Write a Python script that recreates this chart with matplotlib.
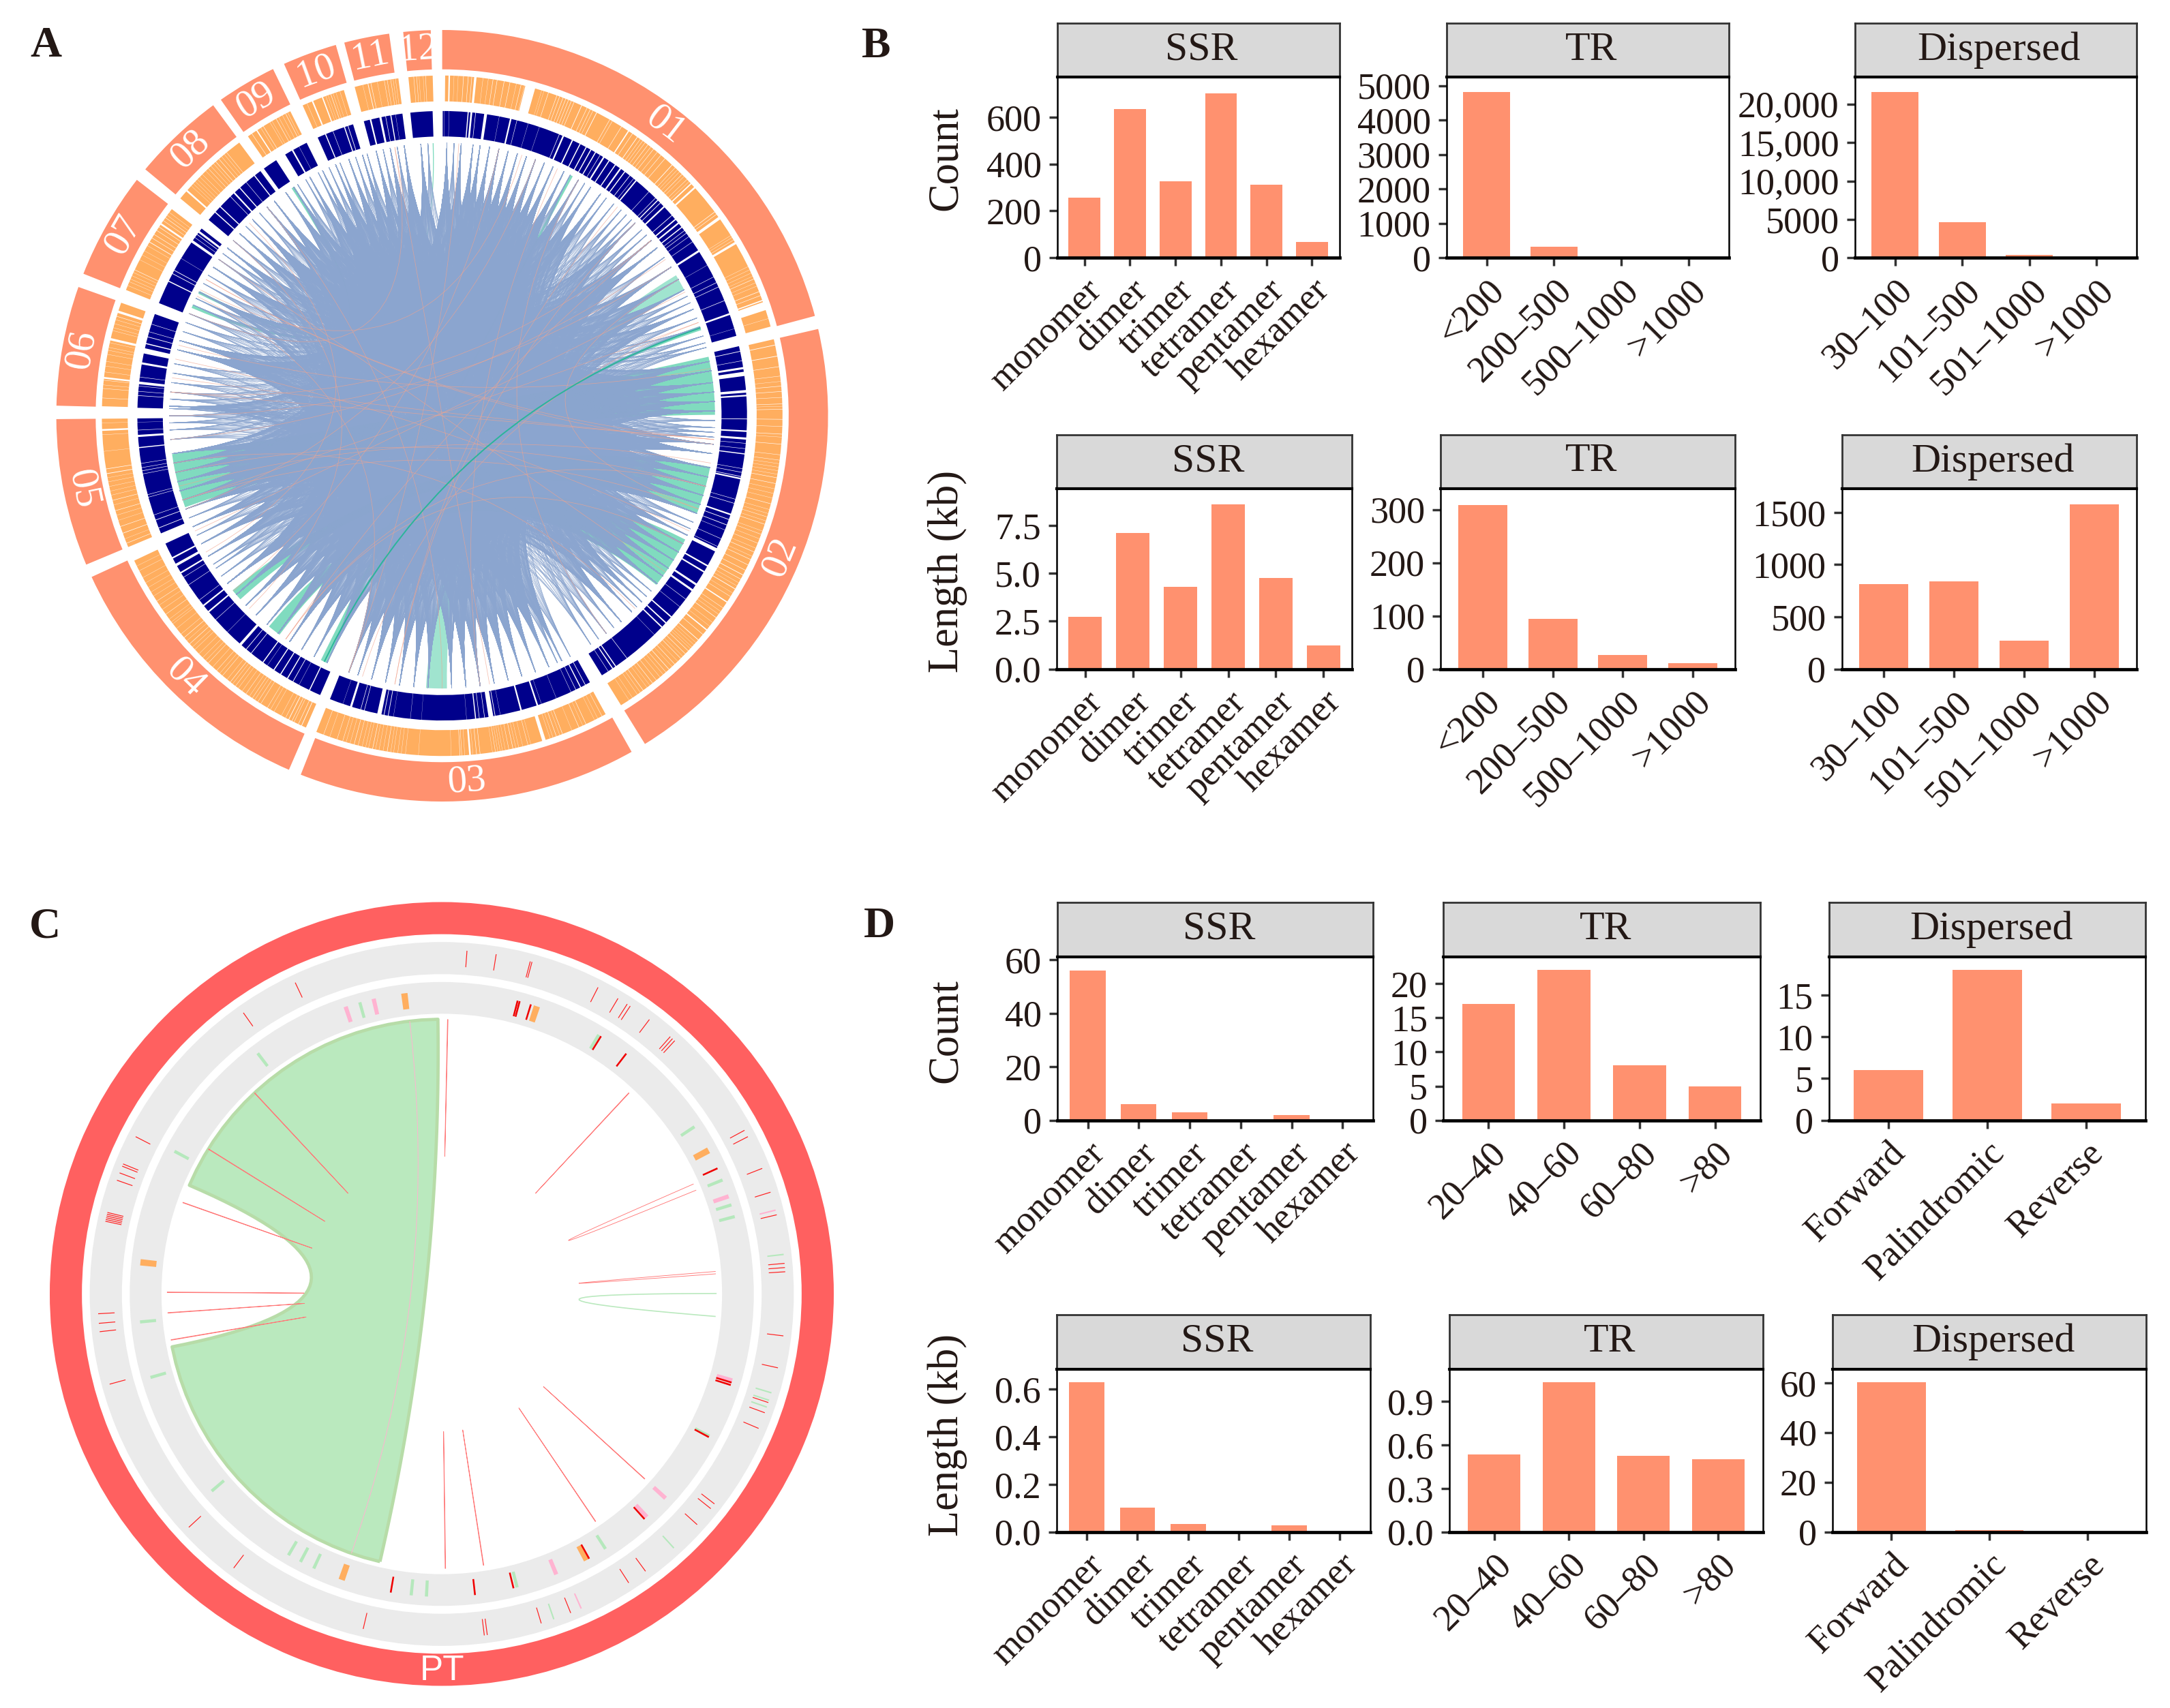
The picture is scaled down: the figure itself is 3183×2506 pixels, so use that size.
import itertools
import numpy as np
import matplotlib
matplotlib.use("Agg")
import matplotlib.pyplot as plt
from matplotlib.collections import LineCollection
from matplotlib.patches import Wedge, PathPatch
from matplotlib.path import Path

W, H = 3183, 2506
plt.rcParams['font.family'] = ['Liberation Serif', 'DejaVu Sans']
TXT = '#231815'
BAR = '#FF916F'

# ---- bar panels data
kmers = ['monomer', 'dimer', 'trimer', 'tetramer', 'pentamer', 'hexamer']
tr_a = ['<200', '200–500', '500–1000', '>1000']
disp_a = ['30–100', '101–500', '501–1000', '>1000']
tr_c = ['20–40', '40–60', '60–80', '>80']
disp_c = ['Forward', 'Palindromic', 'Reverse']

b_ssr_count = [255, 636, 325, 703, 313, 68]
b_tr_count = [4807, 311, 10, 2]
b_disp_count = [21560, 4585, 330, 20]
b_ssr_len = [2.73, 7.1, 4.29, 8.6, 4.77, 1.22]
b_tr_len = [309, 95, 26.6, 10.4]
b_disp_len = [812, 842, 274, 1575]
d_ssr_count = [56, 6, 3, 0, 2, 0]
d_tr_count = [17, 22, 8, 5]
d_disp_count = [6, 18, 2]
d_ssr_len = [0.629, 0.103, 0.033, 0, 0.028, 0]
d_tr_len = [0.537, 1.032, 0.526, 0.503]
d_disp_len = [60.1, 0.7, 0.1]

# ---- circle A data (degrees clockwise from the top)
chroms = ['01', '02', '03', '04', '05', '06', '07', '08', '09', '10', '11', '12']
chrom_start = [0, 77, 150.6, 203.4, 247.3, 271.5, 291.6, 309.7, 325, 335.8, 345.3, 354.2]
chrom_end = [75, 148.3, 201.5, 245.3, 269.5, 289.5, 307.7, 323.6, 334, 344, 352.1, 358.3]

orange_gaps = [
    (1.2, .25), (2, .05), (2.7, .05), (3.6, .1), (4.4, .1), (5, .1), (5.6, .4), (6.9, .06), (7.8, .06), (8.6, .1), (9.3, .1),
    (10.5, .1), (11.5, .1), (12.6, .06), (13.4, .1), (14, .06), (15, 1.7), (17, .05), (17.4, .05), (18.2, .1), (19.7, .1),
    (20.2, .1), (20.8, .1), (21.3, .1), (21.8, .1), (22.3, .1), (22.8, .1), (24.2, .15), (25.2, .1), (25.8, .1), (26.3, .08),
    (27, .15), (29.5, .1), (30, .08), (31.8, .1), (33.2, .2), (34, .1), (35, .15), (35.6, .08), (36.1, .08), (36.6, .08),
    (37.2, .1), (37.8, .08), (38.4, .1), (39.2, .08), (40, .1), (40.9, .1), (42.5, .15), (43.2, .08), (43.7, .06), (44.2, .06),
    (44.8, .1), (45.3, .06), (46, .08), (46.5, .06), (47, .2), (47.9, .3), (53.2, .12), (53.7, .1), (54.5, .5), (58, .06),
    (58.4, .06), (58.9, .08), (59.5, .4), (64, .06), (64.6, .06), (65.2, .06), (65.8, .05), (66.3, .1), (67, .06), (67.6, .06),
    (68.6, .12), (69.3, .1), (70.2, .2), (71.2, 1.4), (73.4, .06),
    (78, .15), (79.9, .15), (81.7, .1), (83.3, .08), (84.2, .06), (85, .1), (85.9, .1), (86.9, .08), (88, .1), (88.4, .06),
    (88.9, .1), (90.6, .1), (91.8, .08), (93.1, .1), (93.6, .06), (94.8, .1), (96.6, .08), (97.5, .08), (98.1, .06), (98.7, .06),
    (99.3, .06), (99.9, .06), (100.5, .1), (101.5, .1), (102.4, .06), (103.2, .06), (104, .06), (105, .1), (106, .06), (106.7, .06),
    (107.3, .08), (108, .06), (108.6, .1), (109.8, .06), (110.4, .08), (111.2, .06), (112, .08), (112.9, .06), (113.6, .1), (114.4, .06),
    (115, .1), (116, .1), (117, .1), (117.9, .15), (118.7, .1), (119.4, .06), (120, .06), (120.6, .15), (121.4, .05), (122.1, .08),
    (123.2, .2), (124.4, .08), (125.1, .06), (125.7, .06), (126.4, .12), (127.4, .06), (128.2, .05), (129, .2), (130, .1), (131.2, .15),
    (131.8, .05), (132.3, .05), (132.8, .05), (133.2, .05), (133.7, .1), (134.4, .1), (135, .05), (135.5, .1), (136.2, .05), (136.9, .1),
    (137.5, .05), (138.2, .12), (138.9, .08), (139.5, .06), (140.2, .06), (141, .08), (141.8, .1), (142.4, .05), (143, .05), (143.8, .1),
    (144.4, .06), (145, .06), (146, .05), (146.7, .05),
    (152, .08), (152.8, .05), (153.4, .05), (155, .1), (155.6, .05), (156.3, .1), (157.6, .05), (159.3, .1), (159.8, .06), (160.4, .1),
    (161, .06), (161.5, .06), (162.6, .6), (164.9, .05), (165.4, .08), (166.3, .05), (167, .06), (167.5, .06), (168, .1), (168.7, .08),
    (169.3, .05), (169.8, .06), (170.2, .06), (170.6, .06), (171, .08), (171.5, .05), (173.6, .1), (174.2, .1), (174.8, .06), (175.3, .3),
    (176.2, .06), (176.7, .08), (177, .1), (178.5, .05), (184, .05), (186.2, .06), (186.9, .06), (187.5, .06), (188.2, .06), (188.7, .06),
    (189.3, .1), (190, .06), (190.7, .06), (191.3, .06), (191.8, .1), (192.5, .06), (193, .06), (193.6, .06), (194.3, .08), (195, .1),
    (195.7, .06), (196.4, .06), (197, .08), (198, .08), (199.3, .06), (200.4, .08),
    (204.4, .15), (205, .1), (205.8, .08), (206.2, .1), (206.8, .15), (207.4, .08), (208.2, .06), (209.6, .06), (210.3, .06), (210.9, .08),
    (212.2, .08), (212.8, .08), (213.4, .06), (213.9, .08), (214.5, .06), (215.2, .08), (216, .06), (216.8, .06), (217.4, .08), (218, .06),
    (218.5, .1), (219.2, .06), (220.2, .08), (220.8, .06), (221.5, .08), (222.4, .06), (223.4, .08), (224, .06), (224.7, .06), (225.6, .06),
    (226.6, .06), (227.2, .06), (227.9, .1), (228.6, .05), (229.3, .1), (230.1, .06), (231.3, .05), (232.3, .05), (232.7, .05), (233.3, .05),
    (234.3, .08), (235.3, .06), (236.2, .05), (237, .08), (238, .05), (238.8, .05), (239.7, .05), (240.6, .05), (241.6, .06), (242.9, .06), (243.8, .05),
    (248, .1), (248.8, .05), (249.8, .12), (251, .1), (252.1, .05), (253, .06), (253.8, .1), (254.8, .05), (255.6, .1), (256.5, .06),
    (257.2, .05), (258, .06), (258.8, .06), (259.5, .05), (260.2, .15), (261, .12), (264, .05), (266.8, .06), (267.6, .3), (268.8, .05),
    (273, .08), (274.6, .08), (275.2, .06), (276, .08), (276.4, .3), (277.4, .06), (278.4, .06), (279.2, .06), (280.4, .06), (281.1, .06),
    (281.6, .06), (282.4, .06), (283, .4), (284.5, .06), (285, .06), (285.7, .06), (286.4, .06), (287, .1), (287.8, .4),
    (292.5, .06), (293.2, .06), (293.7, .06), (294.3, .06), (294.9, .06), (295.4, .1), (297.3, .05), (298.2, .05), (299, .05), (300, .06),
    (300.7, .15), (301.5, .1), (302.2, .1), (303, .1), (303.7, .1), (304.3, .3), (305, .08), (305.6, .1), (306.1, .06), (306.7, .06),
    (311.4, .3), (312.5, .05), (313, .05), (313.5, .05), (314, .05), (314.6, .05), (315.2, .06), (316, .05), (316.6, .08), (317.2, .06),
    (317.8, .06), (318.3, .1), (319, .1), (319.6, .06), (320.2, .06), (320.7, .08),
    (326, .1), (327, .2), (327.8, .06), (328.3, .1), (329.6, .06), (330, .05), (330.8, .1), (331.3, .06), (332, .06), (332.6, .1), (333, .06),
    (336.6, .06), (337.6, .25), (339.4, .2), (340, .06), (340.4, .05), (340.9, .1), (341.3, .06), (341.8, .05), (342.5, .06),
    (346.5, .05), (347.4, .15), (347.9, .1), (349, .05), (350.2, .08), (350.7, .08), (351.3, .08), (351.7, .06), (352.1, .06),
    (355.2, .08), (355.7, .08), (356.1, .05), (356.8, .05), (357.2, .08),
]
navy_gaps = [
    (.4, .06), (1.3, .06), (4.9, .2), (5.5, .35), (6.3, .12), (8.2, .55), (10.8, .06), (13, .3), (14.2, .1), (16.4, .06), (18.6, .06),
    (22.6, .12), (23.4, .3), (25.3, .25), (26.9, .2), (28.2, .2), (29.2, .2), (30.2, .2), (31.2, .12), (32, .3), (33.2, .2), (34.6, .2),
    (35.8, .3), (36.8, .2), (38, .15), (38.9, .1), (39.5, .25), (42.7, .1), (44.4, .12), (45, .2), (45.7, .15), (46.7, .3), (48.9, .15),
    (49.9, .25), (50.8, .3), (51.8, .2), (52.6, .12), (53.2, .12), (54, .1), (55.2, .1), (57.3, .4), (60.4, .06), (62.9, .1), (64.1, .12),
    (65, .12), (67.8, .12), (70.5, .35), (73.4, .06),
    (77.8, .15), (79.6, .1), (81, .4), (82.1, .8), (85.4, .5), (86.2, .3), (90.6, .15), (92.9, .3), (94.3, .4), (95.2, .1), (96.2, .1),
    (97.2, .2), (100, .1), (100.7, .12), (101.5, .15), (101.9, .3), (105.9, .1), (106.7, .12), (108.9, .3), (109.9, .15), (111, .15),
    (112, .08), (113.8, .1), (115.4, .1), (116.1, .7), (119.5, .3), (120.8, .3), (123.6, .4), (124.9, .4), (127, .1), (128.8, .08),
    (131.3, .25), (132.8, .25), (133.9, .25), (135.9, .06), (142.7, .12), (145.3, .2), (146, .2), (147, .1),
    (152, .15), (153, .2), (154, .12), (155, .08), (158, .06), (161, .06), (161.8, .3), (165, .3), (169, .06), (170, .15), (170.8, .9),
    (172, .12), (173, .12), (173.7, .2), (175.4, .05), (183.9, .04), (186, .06), (189.2, .05), (190.2, .15), (191, .15), (191.9, .8),
    (194.8, .12), (195.5, .12), (197.4, .4), (199, .05),
    (205.8, .2), (208, .06), (209.3, .15), (210.5, .2), (212, .2), (213.5, .2), (215, .06), (216, .2), (218.8, .15), (220, .15), (221.4, .5),
    (224.8, .06), (228, .1), (230, .3), (231.5, .3), (232.8, .1), (236.3, .1), (238, .1), (239, .3), (240.7, .5), (242.2, .3),
    (248.4, .15), (250, .15), (251, .1), (254.5, .1), (255, .1), (259, .1), (259.6, .12), (260.2, .1), (261, .1), (264, .2), (266.2, .4),
    (267.3, .1), (268.8, .05),
    (273.8, .12), (274.6, .1), (275.6, .1), (276.2, .5), (277.3, .1), (279.9, .4), (282.3, 1.0), (283.7, .2), (285, .15), (286, .1), (287.5, .1),
    (296.2, .2), (297.8, .15), (298.5, .15), (301.1, .06), (304.9, .5), (305.8, .1), (306.5, .15), (307.1, .4),
    (311.9, .2), (313.3, .2), (316, .12), (317, .3), (318.4, .2), (320, .1), (322, .2),
    (328, 2), (330.6, .3), (332, .06),
    (337.5, .2), (339, .1), (341.3, .2), (342, .15),
    (346.4, .3), (348.3, .4), (349.3, .12), (350.3, .2), (351.2, .06),
]

heavy_anchor = [
    1, 4, 6.5, 8, 10, 12, 14, 16, 18, 20, 22, 24, 26.5, 30, 33, 35.5, 45, 50, 52, 57, 60, 62.5, 67, 78.5, 80.5, 83, 85, 87, 89, 96, 98,
    101, 103, 105, 107, 109, 111, 116, 118, 120, 122, 124, 126, 128, 133, 136, 139, 154, 157, 160, 163, 166, 169, 172, 175, 178,
    183, 186, 189, 192, 195, 198, 200, 205, 208, 211, 214, 217, 220, 223, 226, 229, 232, 239, 242, 246, 250, 252, 254, 256, 258, 260, 262,
    272, 284, 286, 297, 303, 308, 312, 316, 320, 322, 325, 327, 331, 334, 337, 340, 343, 346, 349, 352, 355.5,
]
light_anchor = [
    2.5, 28, 31.5, 37, 39, 41, 42.5, 44, 47, 48.5, 54.5, 64, 65.5, 69, 71, 73, 74.5, 75.5, 91, 92.5, 93.5, 94.5, 113, 114.5, 130, 131.5,
    134.5, 141, 143, 145, 147, 152, 155, 234, 236, 237, 244, 248, 265, 267, 268.5, 270, 271.5, 273.5, 275, 277, 279, 281, 288, 290, 292,
    294, 295.5, 299, 301, 305, 306.5, 310, 314, 318, 328, 330, 333, 335.5, 338, 341.5, 344, 347.5, 350.5, 357,
]
salmon_from = [3.5, 12, 20, 45, 55, 57, 60, 63, 96, 105, 118, 135, 143, 172, 180, 190, 197, 215, 225, 292, 300, 305, 296, 297.5, 350, 285, 252, 255, 258, 110, 95, 275, 278, 282, 315]
salmon_to = [200, 230, 250, 190, 265, 270, 110, 245, 300, 215, 215, 260, 30, 25, 320, 40, 70, 50, 310, 350, 95, 125, 200, 17, 170, 80, 70, 100, 105, 252, 275, 50, 95, 115, 240]
teal_a = [(77.5, 89.8), (100.8, 111), (117, 128.3), (28, 28.6), (293.3, 294), (296.6, 297.2), (70.8, 71.7)]
teal_b = [(250.4, 261.9), (227.7, 230.2), (216.6, 219.4), (204.9, 206.4), (358, 358.2), (326.5, 327.2), (205.2, 206)]

# ---- circle C data
track1_red = [4.2, 9.1, 14.9, 15.2, 27, 30.8, 32.6, 33.2, 37.1, 41.6, 42.1, 42.6, 61.6, 62.8, 68.6, 72.8, 76.7, 84.9, 85.6, 86.3, 97, 102.4, 108.4, 110.2, 113,
              127.6, 128.6, 132.1, 143.7, 147.1, 158, 163.2, 172.4, 172.9, 193.2, 217.2, 227.3, 254.8, 263.7, 265.1, 266.7, 289.3, 290.6, 291.8, 292.2, 297.2, 282.2,
              282.5, 282.8, 283.1, 283.4, 283.7, 324.8, 334.8]
track1_green = [83.4, 106.7, 108, 109.2, 137.6, 161]
track1_pink = [75.9, 156.1]
track2_red = [14.5, 14.9, 17.1, 31.7, 37.5, 65.5, 107, 107.5, 118.2, 138, 150.9, 166.3, 173.7, 189.7]
track2_green = [31.2, 56.5, 67.9, 72.9, 75.2, 118, 147.3, 165.6, 182.9, 185.8, 205, 207.8, 210.4, 229.4, 254, 264.7, 298.1, 322.6, 344.3]
track2_pink = [71.2, 106.6, 132.4, 137.4, 157.8, 341.5, 347]
track2_orange = [18.3, 61.7, 151.4, 199.3, 276, 352.9]
hairpin_a = [1.2, 42.9, 66.4, 85.3, 132.3, 145.9, 171.2, 179.2, 317, 301.8, 289.4, 270.3, 266, 260.3]
hairpin_b = [1.3, 43, 67.8, 85.8, 132.4, 146, 171.3, 179.3, 317.1, 301.9, 289.5, 270.4, 266.1, 260.4]


def px_axes(x0, y0, x1, y1):
    return fig.add_axes([x0 / W, 1 - y1 / H, (x1 - x0) / W, (y1 - y0) / H])


def arc(ax, a0, a1, r0, r1, color):
    ax.add_patch(Wedge((0, 0), r1, 90 - a1, 90 - a0, width=r1 - r0, fc=color, lw=0))


def polar(a, r):
    t = np.radians(a)
    return np.array([r * np.sin(t), r * np.cos(t)])


def link_pts(a, b, r, n=24):
    t = np.linspace(0, 1, n)[:, None]
    return (1 - t) ** 2 * polar(a, r) + t ** 2 * polar(b, r)


def ribbon(ax, a, b, r, fc, ec='none', lw=0, twist=False, alpha=1):
    a0, a1 = a
    b0, b1 = b
    if twist:
        b0, b1 = b1, b0
    pts = []
    pts.append(np.array([polar(v, r) for v in np.linspace(a0, a1, 20)]))
    pts.append(link_pts(a1, b0, r, 40))
    pts.append(np.array([polar(v, r) for v in np.linspace(b0, b1, 20)]))
    pts.append(link_pts(b1, a0, r, 40))
    xy = np.vstack(pts)
    ax.add_patch(PathPatch(Path(xy, closed=False), fc=fc, ec=ec, lw=lw, alpha=alpha, joinstyle='round'))


def circle_axes(cx, cy, R):
    ax = px_axes(cx - R * 1.02, cy - R * 1.02, cx + R * 1.02, cy + R * 1.02)
    ax.set_xlim(-1.02, 1.02)
    ax.set_ylim(-1.02, 1.02)
    ax.axis('off')
    return ax


fig = plt.figure(figsize=(W / 100, H / 100), dpi=100, facecolor='white')

# ---- panel A
ax = circle_axes(648.6, 610, 566)
SALMON = '#FF916F'
ORANGE = '#FFAE5F'
NAVY = '#00008B'
BLUE = '#8BA5CF'
TEAL = '#80DBBF'
LINK_R = 0.707
navy_start = [.1, 76.8, 151, 203.6, 247.3, 271.5, 291.7, 310, 324.2, 335.9, 345.1, 354]
navy_end = [74.8, 148.4, 201.6, 245.2, 269.5, 289.5, 307.9, 323.4, 333.6, 343, 352.5, 358.2]
orange_start = [.5, 77, 151.3, 203.6, 247.3, 271.6, 291.7, 309.7, 325.2, 335.8, 345.1, 354.3]
orange_end = [74.8, 148.3, 201.7, 244.8, 269.5, 289.4, 307.4, 323.4, 333.5, 343.2, 352.6, 358.4]
for i, name in enumerate(chroms):
    arc(ax, chrom_start[i], chrom_end[i], .898, 1, SALMON)
    arc(ax, orange_start[i], orange_end[i], .815, .882, ORANGE)
    arc(ax, navy_start[i], navy_end[i], .724, .79, NAVY)
    mid = (chrom_start[i] + chrom_end[i]) / 2
    rot = 180 - mid if 90 < mid < 270 else -mid
    x, y = polar(mid, .95)
    ax.text(x, y, name, color='white', fontsize=41, rotation=rot, rotation_mode='anchor', ha='center', va='center')
# thin white rules read a bit too strong, so the narrow ones are drawn slimmer
for a, w in orange_gaps:
    w = w * .7 if w < .2 else w
    arc(ax, a - w / 2, a + w / 2, .81, .887, 'white')
for a, w in navy_gaps:
    w = w * .8 if w < .2 else w
    arc(ax, a - w / 2, a + w / 2, .72, .795, 'white')

for a, b in zip(teal_a, teal_b):
    ribbon(ax, a, b, LINK_R, TEAL)
segs = [link_pts(a, b, LINK_R) for a, b in itertools.combinations(heavy_anchor, 2)]
segs += [link_pts(a, b, LINK_R) for a in light_anchor for b in heavy_anchor[::6]]
ax.add_collection(LineCollection(segs, colors=BLUE, linewidths=.42, alpha=.9))
segs2 = [link_pts(a, b, LINK_R) for a, b in zip(salmon_from, salmon_to)]
ax.add_collection(LineCollection(segs2, colors='#F2A48E', linewidths=.55, alpha=.7))
ribbon(ax, (59, 62.5), (179, 183.4), LINK_R, TEAL, twist=True, alpha=.75)
ax.add_collection(LineCollection([link_pts(71.2, 205.6, LINK_R)], colors='#2BB59A', linewidths=1.4))

# ---- panel C
ax = circle_axes(648, 1898.5, 575)
ax.add_patch(Wedge((0, 0), 1, 0, 360, width=.082, fc='#FF6060', lw=0))
ax.add_patch(Wedge((0, 0), .898, 0, 360, width=.082, fc='#EBEBEB', lw=0))
ax.add_patch(Wedge((0, 0), .796, 0, 360, width=.081, fc='#EBEBEB', lw=0))
for a in track1_green:
    arc(ax, a - .12, a + .12, .836, .878, '#B5E8BC')
for a in track1_pink:
    arc(ax, a - .12, a + .12, .836, .878, '#FFB3D1')
for a in track1_red:
    arc(ax, a - .07, a + .07, .836, .878, '#FF2020')
for a in track2_green:
    arc(ax, a - .3, a + .3, .732, .773, '#B5E8BC')
for a in track2_pink:
    arc(ax, a - .4, a + .4, .732, .773, '#FFB3D1')
for a in track2_orange:
    arc(ax, a - .6, a + .6, .732, .773, '#FFAE5F')
for a in track2_red:
    arc(ax, a - .17, a + .17, .732, .773, '#F00000')
ribbon(ax, (193, 258.9), (293.3, 359.2), .701, '#BAE9BE', ec='#B7DCA8', lw=3.4)
segs = [link_pts(a, b, .701) for a, b in zip(hairpin_a, hairpin_b)]
ax.add_collection(LineCollection(segs, colors='#FF7878', linewidths=.65))
ax.add_collection(LineCollection([link_pts(89.9, 94.7, .701)], colors='#BAE9BE', linewidths=1.2))
ax.add_collection(LineCollection([link_pts(353.3, 199.2, .701)], colors='#FFB3D1', linewidths=.7))
x, y = polar(180, .962)
ax.text(x, y, 'PT', color='white', fontsize=37, family='Liberation Sans', ha='center', va='center')

# ---- bar panels
panel_values = [b_ssr_count, b_tr_count, b_disp_count, b_ssr_len, b_tr_len, b_disp_len,
                d_ssr_count, d_tr_count, d_disp_count, d_ssr_len, d_tr_len, d_disp_len]
panel_labels = [kmers, tr_a, disp_a, kmers, tr_a, disp_a, kmers, tr_c, disp_c, kmers, tr_c, disp_c]
panel_titles = ['SSR', 'TR', 'Dispersed'] * 4
panel_ticks = [
    [0, 200, 400, 600], [0, 1000, 2000, 3000, 4000, 5000], [0, 5000, 10000, 15000, 20000],
    [0, 2.5, 5, 7.5], [0, 100, 200, 300], [0, 500, 1000, 1500],
    [0, 20, 40, 60], [0, 5, 10, 15, 20], [0, 5, 10, 15],
    [0, .2, .4, .6], [0, .3, .6, .9], [0, 20, 40, 60],
]
panel_ticktext = [
    ['0', '200', '400', '600'], ['0', '1000', '2000', '3000', '4000', '5000'], ['0', '5000', '10,000', '15,000', '20,000'],
    ['0.0', '2.5', '5.0', '7.5'], ['0', '100', '200', '300'], ['0', '500', '1000', '1500'],
    ['0', '20', '40', '60'], ['0', '5', '10', '15', '20'], ['0', '5', '10', '15'],
    ['0.0', '0.2', '0.4', '0.6'], ['0.0', '0.3', '0.6', '0.9'], ['0', '20', '40', '60'],
]
panel_top = [772, 5252, 23560, 9.42, 339, 1726, 61.2, 23.96, 19.6, .685, 1.125, 65.5]
panel_x = [(1550.6, 1964.5), (2121.7, 2535.8), (2720.7, 3134), (1549.8, 1983.3), (2113, 2545), (2701.5, 3133.8),
           (1550.7, 2014.2), (2117, 2582), (2682.6, 3147.4), (1549.8, 2009.7), (2126, 2586), (2688, 3148)]
panel_y = [(34.4, 113, 378)] * 3 + [(637.6, 717.2, 981.6)] * 3 + [(1324.3, 1403.6, 1643.6)] * 3 + [(1929, 2008.7, 2247.5)] * 3

for i in range(12):
    x0, x1 = panel_x[i]
    y0, y1, y2 = panel_y[i]
    strip = px_axes(x0, y0, x1, y1)
    strip.set_facecolor('#D9D9D9')
    strip.set_xticks([])
    strip.set_yticks([])
    for s in strip.spines.values():
        s.set_color('#333333')
        s.set_linewidth(2)
    strip.text(.512, .5, panel_titles[i], transform=strip.transAxes, fontsize=43, color=TXT, ha='center', va='center')

    ax = px_axes(x0, y1, x1, y2)
    vals = panel_values[i]
    ax.bar(range(len(vals)), vals, width=.7, color=BAR)
    ax.set_xlim(-.6, len(vals) - .4)
    ax.set_ylim(0, panel_top[i])
    ax.set_yticks(panel_ticks[i])
    ax.set_yticklabels(panel_ticktext[i])
    ax.set_xticks(range(len(vals)))
    ax.set_xticklabels(panel_labels[i], rotation=45, ha='right', va='top', rotation_mode='anchor')
    ax.tick_params(axis='both', length=8.6, width=2.5, color='#333333', labelsize=39, labelcolor=TXT, pad=8)
    for side in ['left', 'right']:
        ax.spines[side].set_linewidth(1.8)
        ax.spines[side].set_color('black')
    ax.spines['top'].set_linewidth(3)
    ax.spines['bottom'].set_linewidth(3.4)

ylab_text = ['Count', 'Length (kb)', 'Count', 'Length (kb)']
ylab_x = [1388, 1390, 1388, 1390]
ylab_y = [233, 838, 1513, 2105]
for t, x, y in zip(ylab_text, ylab_x, ylab_y):
    fig.text(x / W, 1 - y / H, t, fontsize=45, color=TXT, rotation=90, ha='center', va='center')

letter_text = ['A', 'B', 'C', 'D']
letter_x = [67, 1285, 66, 1290]
letter_y = [68, 69, 1360, 1360]
for t, x, y in zip(letter_text, letter_x, letter_y):
    fig.text(x / W, 1 - y / H, t, fontsize=46, fontweight='bold', color=TXT, ha='center', va='center')

fig.savefig('out.png', dpi=100, facecolor='white')
